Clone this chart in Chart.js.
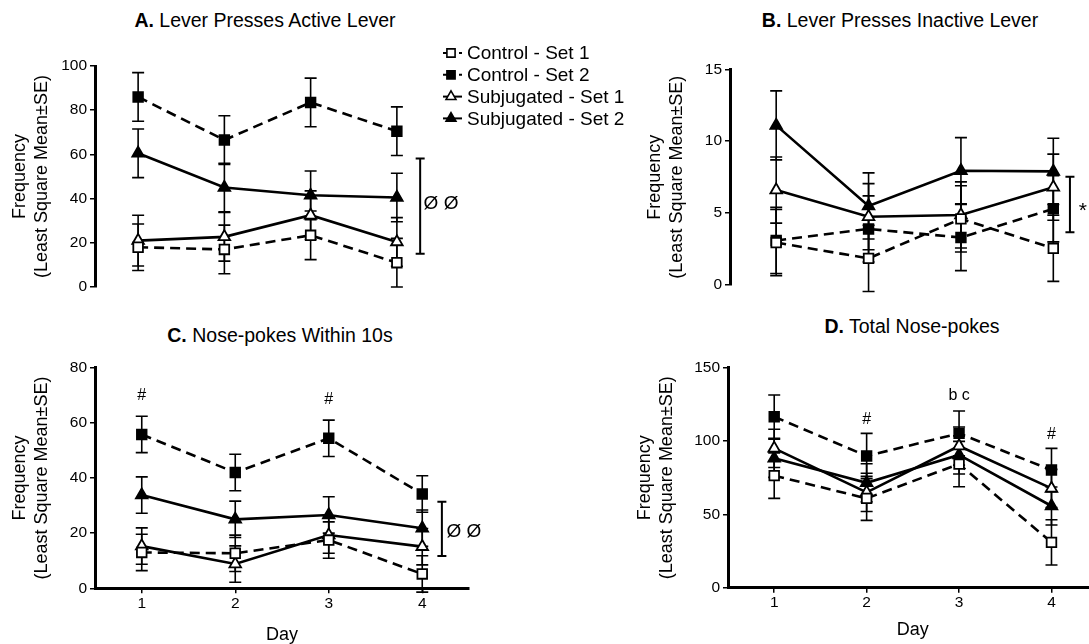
<!DOCTYPE html>
<html lang="en">
<head>
<meta charset="utf-8">
<title>Lever presses and nose-pokes by day</title>
<script src="https://cdn.jsdelivr.net/npm/chart.js@4.4.1/dist/chart.umd.min.js"></script>
<style>
  html, body { margin: 0; padding: 0; background: #fff; }
  body { width: 1089px; height: 644px; overflow: hidden; position: relative; font-family: "Liberation Sans", Arial, sans-serif; }
  canvas { position: absolute; }
  .ttl { position: absolute; font-size: 19.5px; line-height: 1; white-space: nowrap; transform: translateX(-50%); color: #000; }
</style>
</head>
<body>
<div class="ttl" style="left:265px; top:11px;"><b>A.</b> Lever Presses Active Lever</div>
<div class="ttl" style="left:900px; top:11px;"><b>B.</b> Lever Presses Inactive Lever</div>
<div class="ttl" style="left:280px; top:326px;"><b>C.</b> Nose-pokes Within 10s</div>
<div class="ttl" style="left:912px; top:317px;"><b>D.</b> Total Nose-pokes</div>

<canvas id="chartA" width="634" height="310" style="left:0; top:0;"></canvas>
<canvas id="chartB" width="480" height="310" style="left:635px; top:0;"></canvas>
<canvas id="chartC" width="600" height="326" style="left:0; top:320px;"></canvas>
<canvas id="chartD" width="480" height="326" style="left:633px; top:320px;"></canvas>

<script>
// x axis
var days = [1, 2, 3, 4];
var seriesNames = ['Control - Set 1', 'Control - Set 2', 'Subjugated - Set 1', 'Subjugated - Set 2'];

// A. lever presses on the active lever (rows follow seriesNames)
var activeMeans = [
  [18, 17, 23.4, 11],
  [86, 66.5, 83.5, 70.5],
  [21, 22.7, 32.5, 20.4],
  [60.5, 45, 41.5, 40.5]
];
var activeSe = [
  [10.5, 11, 11, 11],
  [11, 11, 11, 11],
  [11.5, 11, 11, 11],
  [11, 11, 11, 11]
];
var activeTicks = [0, 20, 40, 60, 80, 100];

// B. lever presses on the inactive lever
var inactiveMeans = [
  [2.95, 1.85, 4.6, 2.55],
  [3.1, 3.9, 3.3, 5.3],
  [6.6, 4.75, 4.87, 6.8],
  [11.1, 5.5, 7.95, 7.9]
];
var inactiveSe = [
  [2.3, 2.3, 2.3, 2.3],
  [2.3, 2.3, 2.3, 2.3],
  [2.3, 2.3, 2.3, 2.3],
  [2.4, 2.3, 2.3, 2.3]
];
var inactiveTicks = [0, 5, 10, 15];

// C. nose-pokes within 10 s
var within10Means = [
  [13, 12.7, 17.5, 5.2],
  [55.8, 42, 54.4, 34.2],
  [15.3, 8.8, 19.3, 15.1],
  [33.8, 25, 26.6, 21.8]
];
var within10Se = [
  [6.6, 6.6, 6.6, 6.6],
  [6.6, 6.6, 6.6, 6.6],
  [6.6, 6.6, 6.6, 6.6],
  [6.6, 6.6, 6.6, 6.6]
];
var within10Ticks = [0, 20, 40, 60, 80];

// D. total nose-pokes
var totalMeans = [
  [76.4, 60.9, 84.3, 30.9],
  [116.6, 89.8, 105.2, 80.2],
  [95, 65, 96.6, 67.7],
  [88.2, 71.5, 90.5, 55.7]
];
var totalSe = [
  [15.5, 15, 15.5, 15.4],
  [14.8, 15.4, 15.3, 14.8],
  [13, 13, 13, 13],
  [13, 13, 13, 13]
];
var totalTicks = [0, 50, 100, 150];

// significance brackets (low, high)
var activeBracket = [15.1, 58.2];
var inactiveBracket = [3.66, 7.53];
var within10Bracket = [11.7, 31.4];

var FONT = '"Liberation Sans", Arial, sans-serif';
Chart.defaults.font.family = FONT;
Chart.defaults.color = '#000';

var seriesStyles = [
  { dash: [10, 6], shape: 'rect', radius: 6.8, fill: '#fff' },
  { dash: [10, 6], shape: 'rect', radius: 6.8, fill: '#000' },
  { dash: [], shape: 'triangle', radius: 6.7, fill: '#fff' },
  { dash: [], shape: 'triangle', radius: 6.7, fill: '#000' }
];

var errorBarPlugin = {
  id: 'errorBars',
  beforeDatasetsDraw: function (chart) {
    var ctx = chart.ctx, xs = chart.scales.x, ys = chart.scales.y;
    ctx.save();
    ctx.strokeStyle = '#000';
    ctx.lineWidth = 1.6;
    chart.data.datasets.forEach(function (ds) {
      ds.data.forEach(function (pt, k) {
        var se = ds.errorBars[k];
        var x = xs.getPixelForValue(pt.x);
        var hi = ys.getPixelForValue(pt.y + se);
        var lo = ys.getPixelForValue(pt.y - se);
        ctx.beginPath();
        ctx.moveTo(x, hi); ctx.lineTo(x, lo);
        ctx.moveTo(x - 6, hi); ctx.lineTo(x + 6, hi);
        ctx.moveTo(x - 6, lo); ctx.lineTo(x + 6, lo);
        ctx.stroke();
      });
    });
    ctx.restore();
  }
};

function marksPlugin(marks) {
  return {
    id: 'marks',
    afterDatasetsDraw: function (chart) {
      var ctx = chart.ctx, xs = chart.scales.x, ys = chart.scales.y;
      ctx.save();
      ctx.strokeStyle = '#000';
      ctx.fillStyle = '#000';
      ctx.lineWidth = 2;
      (marks.brackets || []).forEach(function (b) {
        var x = xs.getPixelForValue(b.x);
        var y0 = ys.getPixelForValue(b.range[0]), y1 = ys.getPixelForValue(b.range[1]);
        ctx.beginPath();
        ctx.moveTo(x, y0); ctx.lineTo(x, y1);
        ctx.moveTo(x - 4.5, y0); ctx.lineTo(x + 4.5, y0);
        ctx.moveTo(x - 4.5, y1); ctx.lineTo(x + 4.5, y1);
        ctx.stroke();
      });
      (marks.texts || []).forEach(function (t) {
        ctx.font = t.size + 'px ' + FONT;
        ctx.textAlign = t.align || 'center';
        ctx.textBaseline = 'middle';
        ctx.fillText(t.text, xs.getPixelForValue(t.x), ys.getPixelForValue(t.y));
      });
      ctx.restore();
    }
  };
}

// legend drawn to the right of panel A from the dataset styles
var sideLegendPlugin = {
  id: 'sideLegend',
  afterDraw: function (chart) {
    var ctx = chart.ctx, area = chart.chartArea;
    var x0 = area.right + 3, x1 = area.right + 22, tx = area.right + 27;
    chart.data.datasets.forEach(function (ds, i) {
      var y = 53 + i * 21.8;
      ctx.save();
      ctx.strokeStyle = '#000';
      ctx.lineWidth = 2;
      ctx.setLineDash(ds.borderDash);
      ctx.beginPath();
      ctx.moveTo(x0, y); ctx.lineTo(x1, y);
      ctx.stroke();
      ctx.setLineDash([]);
      ctx.fillStyle = ds.pointBackgroundColor;
      ctx.lineWidth = 1.6;
      Chart.helpers.drawPoint(ctx, { pointStyle: ds.pointStyle, radius: ds.pointRadius * 0.85, borderWidth: 1.6, rotation: 0 }, x0 + 8, y);
      ctx.fillStyle = '#000';
      ctx.font = '19px ' + FONT;
      ctx.textAlign = 'left';
      ctx.textBaseline = 'middle';
      ctx.fillText(ds.label, tx, y + 1);
      ctx.restore();
    });
  }
};

function makePanel(canvasId, p) {
  var datasets = seriesNames.map(function (name, i) {
    var st = seriesStyles[i];
    return {
      label: name,
      data: days.map(function (d, k) { return { x: d, y: p.means[i][k] }; }),
      errorBars: p.se[i],
      borderColor: '#000',
      borderWidth: 2.6,
      borderDash: st.dash,
      pointStyle: st.shape,
      pointRadius: st.radius,
      pointHoverRadius: st.radius,
      pointBackgroundColor: st.fill,
      pointBorderColor: '#000',
      pointBorderWidth: 1.8,
      tension: 0,
      fill: false
    };
  });
  var yTicks = p.ticks;
  var axisGrid = { display: true, drawOnChartArea: false, drawTicks: true, tickLength: 5, color: '#000', lineWidth: 1.5 };
  var axisBorder = { display: true, color: '#000', width: 3 };
  var plugins = [errorBarPlugin, marksPlugin(p.marks)];
  if (p.legend) plugins.push(sideLegendPlugin);
  return new Chart(document.getElementById(canvasId), {
    type: 'line',
    data: { datasets: datasets },
    options: {
      responsive: false,
      animation: false,
      events: [],
      layout: { padding: p.padding },
      plugins: { legend: { display: false }, tooltip: { enabled: false } },
      scales: {
        x: {
          type: 'linear', min: 0.5, max: 4.5,
          display: p.xAxis,
          afterBuildTicks: function (s) { s.ticks = days.map(function (d) { return { value: d }; }); },
          afterFit: function (s) { if (p.xAxis) s.height = p.xHeight; },
          grid: axisGrid,
          border: axisBorder,
          ticks: { font: { size: 15.5 }, color: '#000', padding: 1 },
          title: { display: true, text: 'Day', font: { size: 18 }, color: '#000', padding: { top: 0, bottom: p.xTitlePad || 0 } }
        },
        y: {
          type: 'linear', min: yTicks[0], max: yTicks[yTicks.length - 1],
          afterBuildTicks: function (s) { s.ticks = yTicks.map(function (v) { return { value: v }; }); },
          afterFit: function (s) { s.width = 95; },
          grid: axisGrid,
          border: axisBorder,
          ticks: { font: { size: 15.5 }, color: '#000', padding: 3 },
          title: { display: true, text: ['Frequency', '(Least Square Mean±SE)'], font: { size: 18 }, color: '#000', padding: { top: p.yTitlePad, bottom: 0 } }
        }
      }
    },
    plugins: plugins
  });
}

makePanel('chartA', {
  means: activeMeans, se: activeSe, ticks: activeTicks,
  padding: { left: 0, top: 66, right: 194, bottom: 23 },
  xAxis: false, yTitlePad: 9.2, legend: true,
  marks: {
    brackets: [{ x: 4.27, range: activeBracket }],
    texts: [{ x: 4.31, y: 37.8, text: 'Ø Ø', size: 19, align: 'left' }]
  }
});

makePanel('chartB', {
  means: inactiveMeans, se: inactiveSe, ticks: inactiveTicks,
  padding: { left: 0, top: 69.3, right: 15.5, bottom: 25 },
  xAxis: false, yTitlePad: 9.2,
  marks: {
    brackets: [{ x: 4.18, range: inactiveBracket }],
    texts: [{ x: 4.32, y: 5.15, text: '*', size: 21 }]
  }
});

makePanel('chartC', {
  means: within10Means, se: within10Se, ticks: within10Ticks,
  padding: { left: 0, top: 47.7, right: 131, bottom: 0 },
  xAxis: true, xHeight: 57.7, xTitlePad: 0, yTitlePad: 9.2,
  marks: {
    brackets: [{ x: 4.21, range: within10Bracket }],
    texts: [
      { x: 4.26, y: 20.5, text: 'Ø Ø', size: 19, align: 'left' },
      { x: 1, y: 70, text: '#', size: 16 },
      { x: 3, y: 68.3, text: '#', size: 16 }
    ]
  }
});

makePanel('chartD', {
  means: totalMeans, se: totalSe, ticks: totalTicks,
  padding: { left: 0, top: 47.7, right: 15.3, bottom: 0 },
  xAxis: true, xHeight: 58.3, xTitlePad: 5, yTitlePad: 1.2,
  marks: {
    texts: [
      { x: 2, y: 114.3, text: '#', size: 16 },
      { x: 3, y: 130.7, text: 'b c', size: 16 },
      { x: 4, y: 104.5, text: '#', size: 16 }
    ]
  }
});
</script>
</body>
</html>
